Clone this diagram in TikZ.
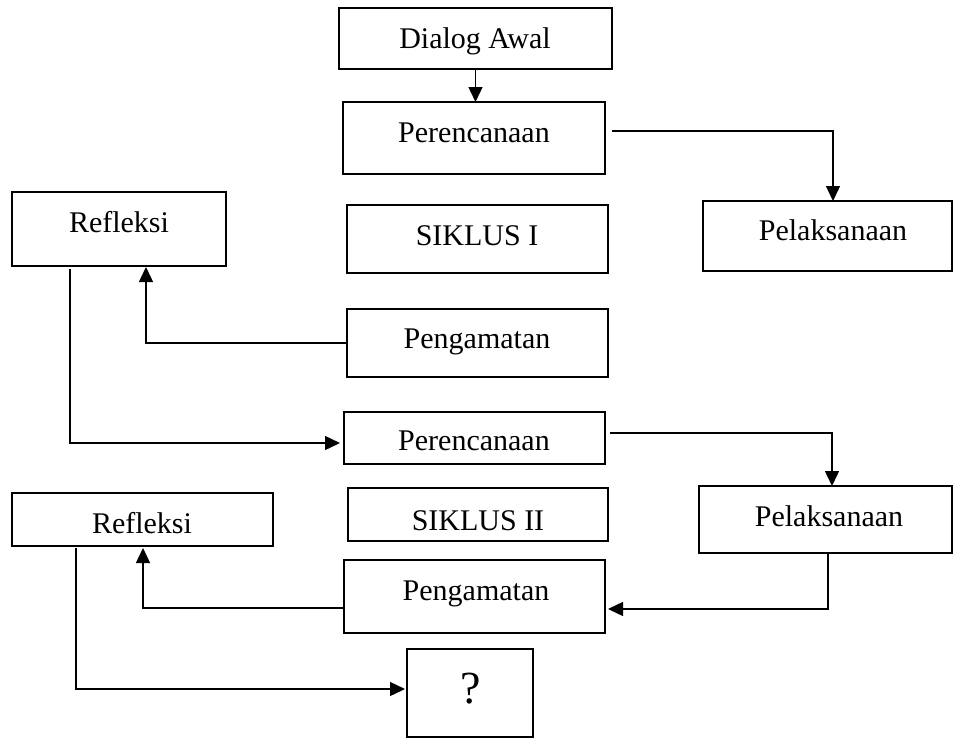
\documentclass[tikz,border=0pt]{standalone}
\usepackage{fontspec}
\setmainfont{Liberation Serif}
\usetikzlibrary{arrows.meta}
\begin{document}
\begin{tikzpicture}[x=1pt,y=-1pt,
  box/.style={draw, line width=1.8pt, inner sep=0pt, outer sep=0pt, anchor=north west},
  txt/.style={inner sep=0pt, anchor=base, font=\fontsize{30}{36}\selectfont},
  conn/.style={line width=1.4pt},
  arr/.style={conn, -{Triangle[length=15pt,width=14pt]}}]
\useasboundingbox (0,0) rectangle (954,739);
% boxes
\node[box, minimum width=273pt, minimum height=61pt] (da) at (339,8) {};
\node[box, minimum width=262pt, minimum height=72pt] (per1) at (343,102) {};
\node[box, minimum width=249pt, minimum height=70pt] (pel1) at (703,201) {};
\node[box, minimum width=214pt, minimum height=74pt] (ref1) at (12,192) {};
\node[box, minimum width=261pt, minimum height=68pt] (sik1) at (347,205) {};
\node[box, minimum width=261pt, minimum height=68pt] (pen1) at (347,309) {};
\node[box, minimum width=261pt, minimum height=52pt] (per2) at (344,412) {};
\node[box, minimum width=253pt, minimum height=67pt] (pel2) at (699,486) {};
\node[box, minimum width=260pt, minimum height=53pt] (sik2) at (348,488) {};
\node[box, minimum width=261pt, minimum height=53pt] (ref2) at (12,493) {};
\node[box, minimum width=261pt, minimum height=73pt] (pen2) at (344,560) {};
\node[box, minimum width=126pt, minimum height=88pt] (q) at (407,649) {};
% texts
\node[txt] (tda) at (475,48) {Dialog Awal};
\node[txt] (tper1) at (474,142) {Perencanaan};
\node[txt] (tpel1) at (833,240) {Pelaksanaan};
\node[txt] (tref1) at (119,232) {Refleksi};
\node[txt] (tsik1) at (477,245) {SIKLUS I};
\node[txt] (tpen1) at (477,348) {Pengamatan};
\node[txt] (tper2) at (474,450) {Perencanaan};
\node[txt] (tpel2) at (829,526) {Pelaksanaan};
\node[txt] (tsik2) at (478,530) {SIKLUS II};
\node[txt] (tref2) at (142,533) {Refleksi};
\node[txt] (tpen2) at (476,600) {Pengamatan};
\node[txt, font=\fontsize{46}{52}\selectfont] (tq) at (471,703) {?};
% connectors
\draw[arr] (da.south) -- (da.south |- per1.north);
\draw[arr] ([xshift=7pt,yshift=7pt]per1.east) -| ([xshift=5.5pt]pel1.north);
\draw[arr] (pen1.west) -| ([xshift=27pt,yshift=-1pt]ref1.south);
\draw[arr] ([xshift=-49pt,yshift=-3pt]ref1.south) |- ([xshift=-4pt,yshift=-5pt]per2.west);
\draw[arr] ([xshift=5pt,yshift=5pt]per2.east) -| ([xshift=6.5pt]pel2.north);
\draw[arr] ([xshift=2.5pt]pel2.south) |- ([xshift=3pt,yshift=-12.5pt]pen2.east);
\draw[arr] ([yshift=-11.5pt]pen2.west) -| ([xshift=0.5pt,yshift=-2pt]ref2.south);
\draw[arr] ([xshift=-66.5pt,yshift=-2pt]ref2.south) |- ([xshift=-2pt,yshift=4pt]q.west);
\end{tikzpicture}
\end{document}
